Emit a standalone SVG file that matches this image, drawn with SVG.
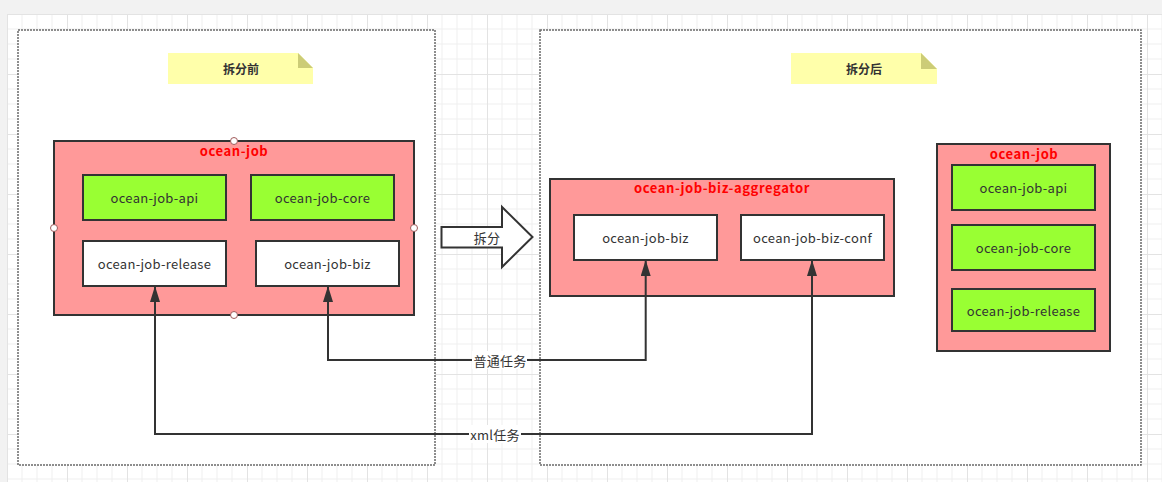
<svg xmlns="http://www.w3.org/2000/svg" width="1162" height="482" viewBox="0 0 1162 482">
<defs>
<style>
.t{font-family:"Noto Sans CJK SC","Noto Sans",sans-serif;font-size:13px;letter-spacing:0.3px;fill:#333;text-anchor:middle;dominant-baseline:central}
.tb{font-family:"Noto Sans CJK SC","Noto Sans",sans-serif;font-size:13px;letter-spacing:0.6px;font-weight:bold;fill:#ff0000;text-anchor:middle;dominant-baseline:central}
.nt{font-family:"Noto Sans CJK SC","Noto Sans",sans-serif;font-size:12px;font-weight:bold;fill:#333;text-anchor:middle;dominant-baseline:central}
.cont{fill:#fff;stroke:#6a6a6a;stroke-width:1.5;stroke-dasharray:2 1}
.grp{fill:#ff9999;stroke:#333;stroke-width:2}
.g{fill:#99ff33;stroke:#333;stroke-width:2}
.w{fill:#fff;stroke:#333;stroke-width:2}
.note{fill:#ffffaa}
.fold{fill:#cccc77}
.con{fill:none;stroke:#333;stroke-width:2}
.pt{fill:#fff;stroke:#a05a5a;stroke-width:1}
</style>
<pattern id="grid" x="7" y="14" width="60" height="60" patternUnits="userSpaceOnUse">
<rect width="60" height="60" fill="#fff"/>
<path d="M15 0V60M30 0V60M45 0V60M0 15H60M0 30H60M0 45H60" stroke="#f0f0f0" stroke-width="1"/>
<path d="M0.5 0V60M0 0.5H60" stroke="#e3e3e3" stroke-width="1"/>
</pattern>
<marker id="ah" markerWidth="16" markerHeight="10" refX="16" refY="5" viewBox="0 0 16 10" markerUnits="userSpaceOnUse" orient="auto-start-reverse">
<path d="M0 0L16 5L0 10Z" fill="#333"/>
</marker>
</defs>
<rect width="1162" height="482" fill="#f2f2f2"/>
<rect x="7" y="14" width="1155" height="468" fill="url(#grid)"/>

<g id="container-before"><rect class="cont" x="18" y="30" width="417" height="435"/></g>
<g id="container-after"><rect class="cont" x="540" y="30" width="601" height="435"/></g>

<g id="note-before">
<path class="note" d="M168 53H298L313 68V84H168Z"/>
<path class="fold" d="M298 53L313 68H298Z"/>
<text class="nt" x="241" y="68">拆分前</text>
</g>
<g id="note-after">
<path class="note" d="M791 53H921L937 69V84H791Z"/>
<path class="fold" d="M921 53L937 69H921Z"/>
<text class="nt" x="864" y="68">拆分后</text>
</g>

<g id="ocean-job-before">
<rect class="grp" x="54" y="141" width="360" height="174"/>
<text class="tb" x="234" y="150">ocean-job</text>
<circle class="pt" cx="234" cy="141" r="3.5"/>
<circle class="pt" cx="54" cy="228" r="3.5"/>
<circle class="pt" cx="414" cy="228" r="3.5"/>
<circle class="pt" cx="234" cy="315" r="3.5"/>
</g>
<g id="api-before"><rect class="g" x="83" y="175" width="143" height="45"/><text class="t" x="154.5" y="197.5">ocean-job-api</text></g>
<g id="core-before"><rect class="g" x="251" y="175" width="143" height="45"/><text class="t" x="322.5" y="197.5">ocean-job-core</text></g>
<g id="release-before"><rect class="w" x="83" y="241" width="143" height="45"/><text class="t" x="154.5" y="263.5">ocean-job-release</text></g>
<g id="biz-before"><rect class="w" x="256" y="241" width="143" height="45"/><text class="t" x="327.5" y="263.5">ocean-job-biz</text></g>

<g id="split-arrow">
<path d="M441.5 227H502V207L532.5 237L502 267V247.5H441.5Z" fill="#fff" stroke="#333" stroke-width="2"/>
<text class="t" x="487" y="237">拆分</text>
</g>

<g id="aggregator">
<rect class="grp" x="550" y="179" width="344" height="117"/>
<text class="tb" x="722" y="187">ocean-job-biz-aggregator</text>
</g>
<g id="biz-after"><rect class="w" x="574" y="215" width="143" height="45"/><text class="t" x="645.5" y="237.5">ocean-job-biz</text></g>
<g id="biz-conf"><rect class="w" x="741" y="215" width="143" height="45"/><text class="t" x="812.5" y="237.5">ocean-job-biz-conf</text></g>

<g id="ocean-job-after">
<rect class="grp" x="937" y="144" width="173" height="207"/>
<text class="tb" x="1024" y="153">ocean-job</text>
</g>
<g id="api-after"><rect class="g" x="952" y="165" width="143" height="45"/><text class="t" x="1023.5" y="187.5">ocean-job-api</text></g>
<g id="core-after"><rect class="g" x="952" y="225" width="143" height="45"/><text class="t" x="1023.5" y="247.5">ocean-job-core</text></g>
<g id="release-after"><rect class="g" x="952" y="289" width="143" height="42"/><text class="t" x="1023.5" y="310">ocean-job-release</text></g>

<g id="connectors">
<path class="con" d="M328 286V360H645.7V260" marker-start="url(#ah)" marker-end="url(#ah)"/>
<path class="con" d="M155 286V434H812V260" marker-start="url(#ah)" marker-end="url(#ah)"/>
<rect x="472" y="351" width="55" height="18" fill="#fff"/>
<text class="t" x="500" y="360">普通任务</text>
<rect x="469" y="425" width="52" height="18" fill="#fff"/>
<text class="t" x="495" y="434">xml任务</text>
</g>
</svg>
